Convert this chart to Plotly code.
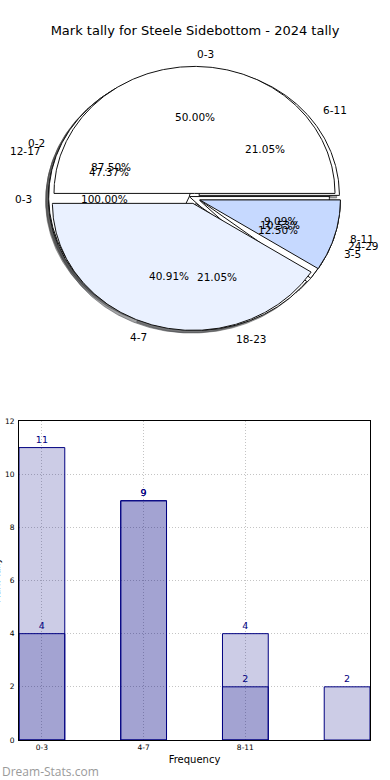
import numpy as np
import plotly.graph_objects as go

# ---------------- data ----------------
title_text = "Mark tally for Steele Sidebottom - 2024 tally"

pie1_labels = ["0-3", "4-7", "8-11"]
pie1_values = [11, 9, 2]
pie2_labels = ["6-11", "12-17", "18-23", "24-29"]
pie2_values = [4, 9, 4, 2]
pie3_labels = ["0-2", "3-5"]
pie3_values = [7, 1]
pie4_labels = ["0-3"]
pie4_values = [1]

bar_categories = ["0-3", "4-7", "8-11"]
bar_series_a = [11, 9, 4, 2]
bar_series_b = [4, 9, 2]
x_title = "Frequency"
y_title = "Mark Tally"
watermark = "Dream-Stats.com"

# ---------------- pie geometry (pixel space of the top subplot) ----------------
CX, CY = 194.5, 198.5
RX, RY = 140.5, 127.0
EXPLODE = 0.04
SHADOW = (-0.02, -0.02)
FONT = "DejaVu Sans"

pie1_colors = ["#ffffff", "#eaf1ff", "#c6d9ff"]
white = "#ffffff"


def to_px(u, v):
    return CX + RX * np.asarray(u), CY - RY * np.asarray(v)


def wedge_pts(t1, t2, ox, oy):
    full = abs((t2 - t1) - 360) < 1e-9
    th = np.radians(np.linspace(t1, t2, max(8, int(abs(t2 - t1) * 2))))
    u = ox + np.cos(th)
    v = oy + np.sin(th)
    if not full:
        u = np.concatenate([[ox], u, [ox]])
        v = np.concatenate([[oy], v, [oy]])
    return to_px(u, v)


def pie_geometry(values):
    vals = np.asarray(values, dtype=float)
    frac = vals / vals.sum()
    out = []
    t = 0.0
    for f in frac:
        t2 = t + 360 * f
        mid = np.radians((t + t2) / 2)
        ox, oy = EXPLODE * np.cos(mid), EXPLODE * np.sin(mid)
        out.append((t, t2, mid, ox, oy, f))
        t = t2
    return out


pies = [
    (pie4_labels, pie4_values, [white]),
    (pie3_labels, pie3_values, [white] * 2),
    (pie2_labels, pie2_values, [white] * 4),
    (pie1_labels, pie1_values, pie1_colors),
]

fig = go.Figure()

# shadows (below every wedge)
for labels, values, colors in pies:
    for (t1, t2, mid, ox, oy, f), col in zip(pie_geometry(values), colors):
        rgb = [int(col[i:i + 2], 16) for i in (1, 3, 5)]
        sc = "rgba(%d,%d,%d,0.5)" % tuple(int(0.3 * c) for c in rgb)
        xs, ys = wedge_pts(t1, t2, ox + SHADOW[0], oy + SHADOW[1])
        fig.add_trace(go.Scatter(x=xs, y=ys, mode="lines", fill="toself",
                                 fillcolor=sc, line=dict(color=sc, width=1),
                                 hoverinfo="skip", showlegend=False,
                                 xaxis="x2", yaxis="y2"))

annotations = []
# wedges
for labels, values, colors in pies:
    for (t1, t2, mid, ox, oy, f), col, lab in zip(pie_geometry(values), colors, labels):
        xs, ys = wedge_pts(t1, t2, ox, oy)
        fig.add_trace(go.Scatter(x=xs, y=ys, mode="lines", fill="toself",
                                 fillcolor=col, line=dict(color="#111111", width=1),
                                 hoverinfo="skip", showlegend=False,
                                 xaxis="x2", yaxis="y2"))
        xt = ox + 1.1 * np.cos(mid)
        yt = oy + 1.1 * np.sin(mid)
        px, py = to_px(xt, yt)
        annotations.append(dict(x=float(px), y=float(py), xref="x2", yref="y2",
                                text=lab, showarrow=False,
                                xanchor="left" if xt > 0 else "right", yanchor="middle",
                                font=dict(family=FONT, size=10.5, color="#000000")))
        xp = ox + 0.6 * np.cos(mid)
        yp = oy + 0.6 * np.sin(mid)
        px, py = to_px(xp, yp)
        annotations.append(dict(x=float(px), y=float(py), xref="x2", yref="y2",
                                text="%.2f%%" % (100 * f), showarrow=False,
                                xanchor="center", yanchor="middle",
                                font=dict(family=FONT, size=10.5, color="#000000")))

# ---------------- bar chart ----------------
bar_fill = "rgba(0,0,128,0.2)"
fig.add_trace(go.Bar(x=list(range(len(bar_series_a))), y=bar_series_a, width=0.45,
                     marker=dict(color=bar_fill, line=dict(color="#000080", width=1)),
                     text=[str(v) for v in bar_series_a], textposition="outside",
                     textfont=dict(family=FONT, size=9.5, color="#000080"),
                     cliponaxis=False, showlegend=False, hoverinfo="skip"))
fig.add_trace(go.Bar(x=list(range(len(bar_series_b))), y=bar_series_b, width=0.45,
                     marker=dict(color=bar_fill, line=dict(color="#000080", width=1)),
                     text=[str(v) for v in bar_series_b], textposition="outside",
                     textfont=dict(family=FONT, size=9.5, color="#000080"),
                     cliponaxis=False, showlegend=False, hoverinfo="skip"))

annotations.append(dict(x=0, y=1 - 580 / 780, xref="paper", yref="paper", text=y_title,
                        textangle=-90, showarrow=False, xanchor="center", yanchor="middle",
                        xshift=-3,
                        font=dict(family=FONT, size=9, color="#000000")))
annotations.append(dict(x=0, y=1 - 771 / 780, xref="paper", yref="paper", text=watermark,
                        showarrow=False, xanchor="left", yanchor="middle",
                        font=dict(family="Open Sans", size=12, color="#9a9a9a")))

grid = dict(showgrid=True, gridcolor="#c4c4c4", griddash="1px,2px", gridwidth=1)

fig.update_layout(
    width=390, height=780,
    margin=dict(l=0, r=0, t=0, b=0, autoexpand=False),
    paper_bgcolor="white", plot_bgcolor="white",
    barmode="overlay",
    title=dict(text=title_text, x=0.5, xanchor="center", y=1 - 30 / 780, yanchor="middle",
               font=dict(family=FONT, size=13, color="#000000")),
    xaxis=dict(domain=[19 / 390, 370 / 390], range=[-0.225, 3.225],
               tickvals=list(range(len(bar_categories))), ticktext=bar_categories,
               tickfont=dict(family=FONT, size=7.5, color="#000000"),
               showline=True, linecolor="#000000", linewidth=1, mirror=True,
               ticks="", zeroline=False, automargin=False,
               title=dict(text=x_title, standoff=4,
                          font=dict(family=FONT, size=10, color="#000000")), **grid),
    yaxis=dict(domain=[1 - 740 / 780, 1 - 421 / 780], range=[0, 12], dtick=2,
               tickfont=dict(family=FONT, size=7.5, color="#000000"),
               showline=True, linecolor="#000000", linewidth=1, mirror=True,
               ticks="", zeroline=False, ticklabelstandoff=2, automargin=False, **grid),
    xaxis2=dict(domain=[0, 1], range=[0, 390], visible=False, anchor="y2"),
    yaxis2=dict(domain=[0.5, 1], range=[390, 0], visible=False, anchor="x2"),
    annotations=annotations,
)

fig.write_html("out.html", config={"displayModeBar": False},
               post_script="document.body.style.margin='0px';")
